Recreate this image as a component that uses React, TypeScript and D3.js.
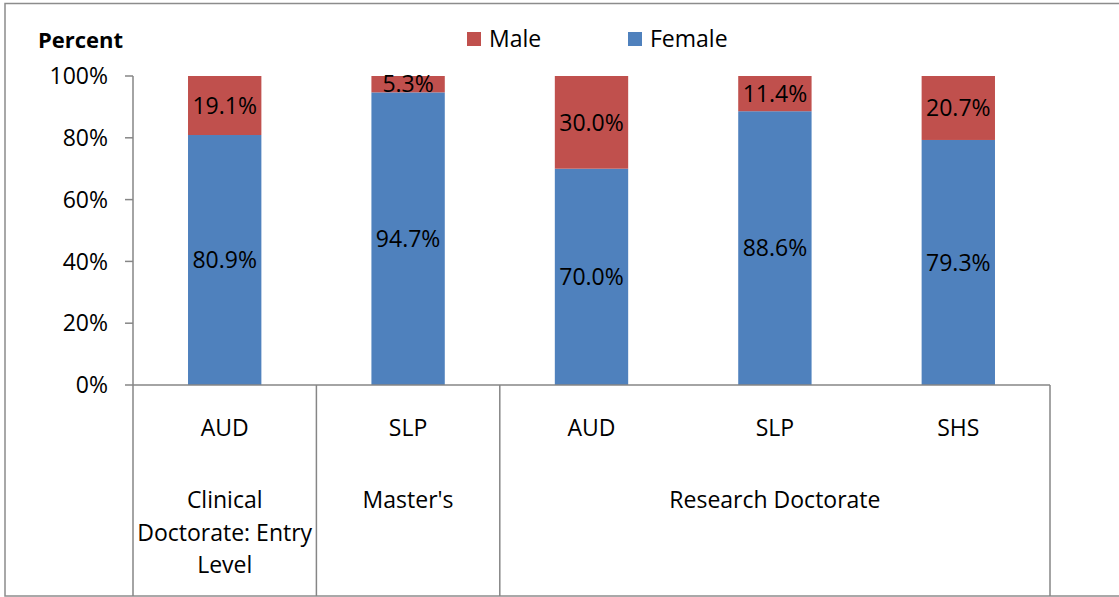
import React from "react";
import * as d3 from "d3";

const categories = ["AUD", "SLP", "AUD", "SLP", "SHS"];
const groups = [
  { lines: ["Clinical", "Doctorate: Entry", "Level"], size: 1 },
  { lines: ["Master's"], size: 1 },
  { lines: ["Research Doctorate"], size: 3 },
];
const female = [80.9, 94.7, 70.0, 88.6, 79.3];
const male = [19.1, 5.3, 30.0, 11.4, 20.7];
const yTicks = [0, 20, 40, 60, 80, 100];

const FONT = "'Open Sans', sans-serif";
const MALE_C = "#C0504D";
const FEMALE_C = "#4F81BD";
const AXIS_C = "#868686";
const FS = 23;

export default function App() {
  const W = 1119, H = 597;
  const left = 133, right = 1050, top = 76, bottom = 385;
  const keys = categories.map((_, i) => String(i));
  const x = d3.scaleBand().domain(keys).range([left, right]).paddingInner(0.6).paddingOuter(0.3);
  const y = d3.scaleLinear().domain([0, 100]).range([bottom, top]);
  const step = x.step();
  let cum = 0;
  const groupInfo = groups.map((g) => {
    const start = left + cum * step;
    cum += g.size;
    const end = left + cum * step;
    return { ...g, start, end };
  });
  const fmt = (v: number) => v.toFixed(1) + "%";

  return (
    <svg width={W} height={H} style={{ position: "absolute", left: 0, top: 0, fontFamily: FONT }}>
      <rect x={0} y={0} width={W} height={H} fill="#fff" />
      <rect x={5} y={3.5} width={1300} height={592.5} fill="none" stroke="#8c8c8c" strokeWidth={1.5} />

      <text x={38} y={48} fontSize={22} fontWeight="bold" fill="#000">Percent</text>

      {/* legend */}
      <rect x={467} y={32} width={14} height={14} fill={MALE_C} />
      <text x={489} y={39} dy="0.36em" fontSize={FS} fill="#000">Male</text>
      <rect x={628} y={32} width={14} height={14} fill={FEMALE_C} />
      <text x={650} y={39} dy="0.36em" fontSize={FS} fill="#000">Female</text>

      {/* bars */}
      {keys.map((k, i) => {
        const bx = x(k)!;
        const bw = x.bandwidth();
        const fTop = y(female[i]);
        const mTop = y(female[i] + male[i]);
        return (
          <g key={k}>
            <rect x={bx} y={fTop} width={bw} height={bottom - fTop} fill={FEMALE_C} />
            <rect x={bx} y={mTop} width={bw} height={fTop - mTop} fill={MALE_C} />
            <text x={bx + bw / 2} y={(bottom + fTop) / 2} dy="0.36em" textAnchor="middle" fontSize={FS} fill="#000">{fmt(female[i])}</text>
            <text x={bx + bw / 2} y={(fTop + mTop) / 2} dy="0.36em" textAnchor="middle" fontSize={FS} fill="#000">{fmt(male[i])}</text>
          </g>
        );
      })}

      {/* y axis */}
      <line x1={left} x2={left} y1={top} y2={bottom} stroke={AXIS_C} strokeWidth={1.5} />
      {yTicks.map((t) => (
        <g key={t}>
          <line x1={125} x2={left} y1={y(t)} y2={y(t)} stroke={AXIS_C} strokeWidth={1.5} />
          <text x={108} y={y(t)} dy="0.36em" textAnchor="end" fontSize={FS} fill="#000">{t}%</text>
        </g>
      ))}

      {/* x axis */}
      <line x1={left} x2={right} y1={bottom} y2={bottom} stroke={AXIS_C} strokeWidth={1.5} />
      {[left, ...groupInfo.map((g) => g.end)].map((bx, i) => (
        <line key={i} x1={bx} x2={bx} y1={bottom} y2={596} stroke={AXIS_C} strokeWidth={1.5} />
      ))}
      {keys.map((k, i) => (
        <text key={k} x={x(k)! + x.bandwidth() / 2} y={428} dy="0.36em" textAnchor="middle" fontSize={FS} fill="#000">{categories[i]}</text>
      ))}
      {groupInfo.map((g, gi) => (
        <text key={gi} textAnchor="middle" fontSize={FS} fill="#000">
          {g.lines.map((ln, li) => (
            <tspan key={li} x={(g.start + g.end) / 2} y={500 + li * 32.5} dy="0.36em">{ln}</tspan>
          ))}
        </text>
      ))}
    </svg>
  );
}
